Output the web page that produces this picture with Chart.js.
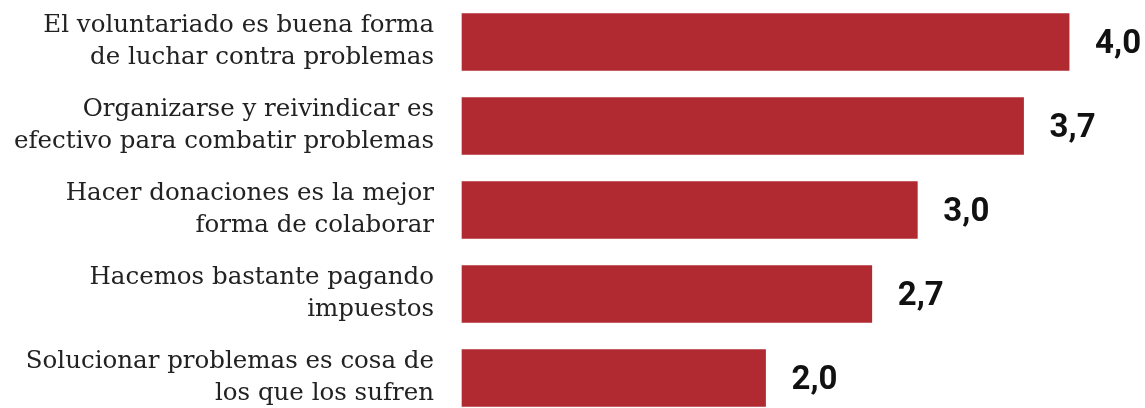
<!DOCTYPE html>
<html>
<head>
<meta charset="utf-8">
<script src="https://cdn.jsdelivr.net/npm/chart.js@4"></script>
<style>
  html, body { margin: 0; padding: 0; background: #ffffff; overflow: hidden; }
  #wrap { width: 1145px; height: 420px; position: relative; }
</style>
</head>
<body>
<div id="wrap"><canvas id="c"></canvas></div>
<script>
const categories = [
  ["El voluntariado es buena forma", "de luchar contra problemas"],
  ["Organizarse y reivindicar es", "efectivo para combatir problemas"],
  ["Hacer donaciones es la mejor", "forma de colaborar"],
  ["Hacemos bastante pagando", "impuestos"],
  ["Solucionar problemas es cosa de", "los que los sufren"]
];
const values = [4.0, 3.7, 3.0, 2.7, 2.0];
const valueLabels = ["4,0", "3,7", "3,0", "2,7", "2,0"];

const BAR_COLOR = "#B12A31";

const valueLabelPlugin = {
  id: "valueLabels",
  afterDatasetsDraw(chart) {
    const ctx = chart.ctx;
    const meta = chart.getDatasetMeta(0);
    ctx.save();
    ctx.font = "bold 33px Roboto";
    ctx.fillStyle = "#111111";
    ctx.textAlign = "left";
    ctx.textBaseline = "alphabetic";
    meta.data.forEach((bar, i) => {
      ctx.fillText(valueLabels[i], bar.x + 26, bar.y + 11);
    });
    ctx.restore();
  }
};

new Chart(document.getElementById("c"), {
  type: "bar",
  data: {
    labels: categories,
    datasets: [{
      data: values,
      backgroundColor: BAR_COLOR,
      borderWidth: 0,
      barThickness: 57,
      clip: false
    }]
  },
  options: {
    indexAxis: "y",
    responsive: true,
    maintainAspectRatio: false,
    animation: false,
    layout: { padding: 0 },
    plugins: { legend: { display: false }, tooltip: { enabled: false } },
    scales: {
      x: { display: false, min: 0, max: 4.5 },
      y: {
        offset: true,
        border: { display: false },
        grid: { display: false, drawTicks: false },
        ticks: {
          padding: 28,
          crossAlign: "near",
          color: "#222222",
          font: { family: "'DejaVu Serif'", size: 24.5, lineHeight: 1.3 }
        },
        afterFit(scale) {
          scale.width = 462;
          scale.paddingTop = 0;
          scale.paddingBottom = 0;
        }
      }
    }
  },
  plugins: [valueLabelPlugin]
});
</script>
</body>
</html>
